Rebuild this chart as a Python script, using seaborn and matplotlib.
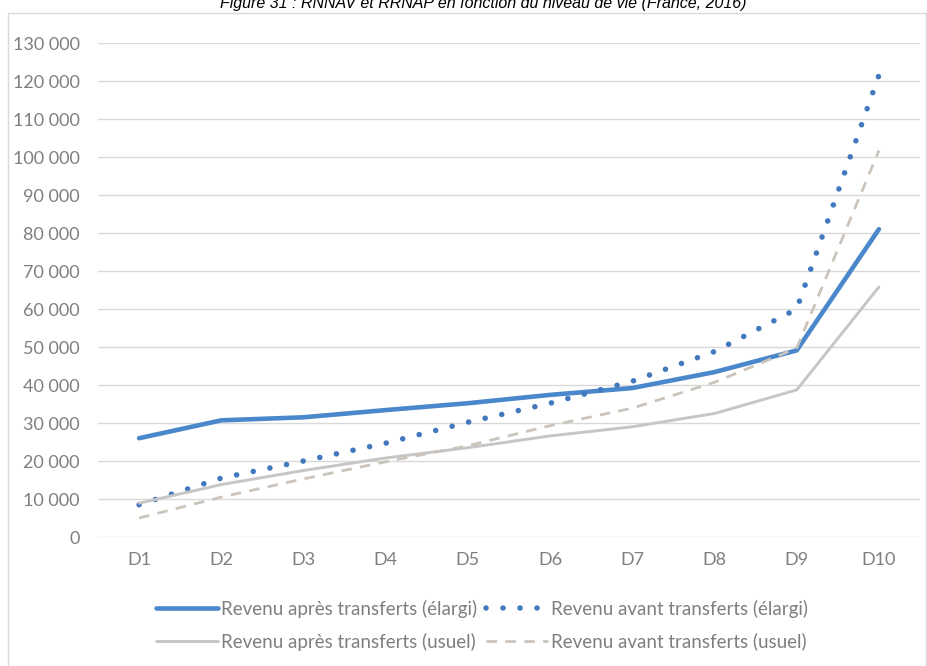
import matplotlib
matplotlib.use("Agg")
import matplotlib.pyplot as plt
from matplotlib.patches import Rectangle
from matplotlib.ticker import FuncFormatter, MultipleLocator
import pandas as pd
import seaborn as sns

# Deciles of standard of living
deciles = ["D1", "D2", "D3", "D4", "D5", "D6", "D7", "D8", "D9", "D10"]

# Yearly income (euros) per decile
apres_elargi = [26000, 30700, 31500, 33400, 35200, 37400, 39200, 43400, 49100, 81000]
avant_elargi = [8500, 15500, 20000, 24700, 30200, 35200, 41000, 48800, 60000, 121500]
apres_usuel = [8900, 13800, 17500, 20800, 23500, 26600, 29000, 32500, 38700, 65800]
avant_usuel = [5000, 10500, 15300, 19800, 24000, 29300, 33900, 40700, 49700, 101700]

labels = [
    "Revenu après transferts (élargi)",
    "Revenu avant transferts (élargi)",
    "Revenu après transferts (usuel)",
    "Revenu avant transferts (usuel)",
]
title = "Figure 31 : RNNAV et RRNAP en fonction du niveau de vie (France, 2016)"

sns.set_theme(style="white")
plt.rcParams["font.family"] = ["Lato", "DejaVu Sans"]

W, H = 928, 666
fig = plt.figure(figsize=(W / 100, H / 100), dpi=100)
ax = fig.add_axes([98 / W, 1 - 537 / H, (920 - 98) / W, (537 - 43) / H])

blue = "#4A88CB"
blue_dots = "#4279BE"
grey = "#C6C6C6"
beige = "#CBC4BC"

series = [
    (apres_elargi, dict(color=blue, lw=3.3, linestyle="-", solid_capstyle="round")),
    (avant_elargi, dict(color=blue_dots, lw=4.0, linestyle=(0, (0.01, 3.05)), dash_capstyle="round")),
    (apres_usuel, dict(color=grey, lw=2.1, linestyle="-")),
    (avant_usuel, dict(color=beige, lw=2.0, linestyle=(0, (3.8, 3.0)))),
]

handles = []
for (vals, kw), lab in zip(series, labels):
    df = pd.DataFrame({"decile": deciles, "revenu": vals})
    sns.lineplot(data=df, x="decile", y="revenu", ax=ax, sort=False, label=lab, **kw)
    handles.append(ax.lines[-1])

ax.get_legend().remove()

ax.set_xlim(-0.5, len(deciles) - 0.5)
ax.set_ylim(0, 130000)
ax.yaxis.set_major_locator(MultipleLocator(10000))
ax.yaxis.set_major_formatter(FuncFormatter(lambda v, p: f"{int(v):,}".replace(",", " ")))
ax.set_xlabel("")
ax.set_ylabel("")
ax.grid(False)
ax.yaxis.grid(True, color="#D9D9D9", lw=1.0)
for s in ax.spines.values():
    s.set_visible(False)
ax.tick_params(axis="y", length=0, pad=13, labelsize=13, labelcolor="#7F7F7F")
ax.tick_params(axis="x", length=0, pad=11, labelsize=13, labelcolor="#7F7F7F")

order = [0, 2, 1, 3]
fig.legend([handles[i] for i in order], [labels[i] for i in order],
           ncol=2, loc="center", bbox_to_anchor=(482 / W, 1 - 625 / H),
           frameon=False, fontsize=13.5, labelcolor="#7F7F7F",
           handlelength=3.3, handletextpad=0.15, columnspacing=0.5,
           labelspacing=0.8)

fig.text(483 / W, 1 - 8 / H, title, ha="center", va="baseline",
         family="Liberation Sans", fontstyle="italic", fontsize=11.5, color="#000000")

fig.patches.append(Rectangle((8 / W, -0.01), (926 - 8) / W, 1.01 - 13 / H,
                             transform=fig.transFigure, fill=False,
                             edgecolor="#D9D9D9", lw=1.0))

fig.savefig("out.png", dpi=100)
